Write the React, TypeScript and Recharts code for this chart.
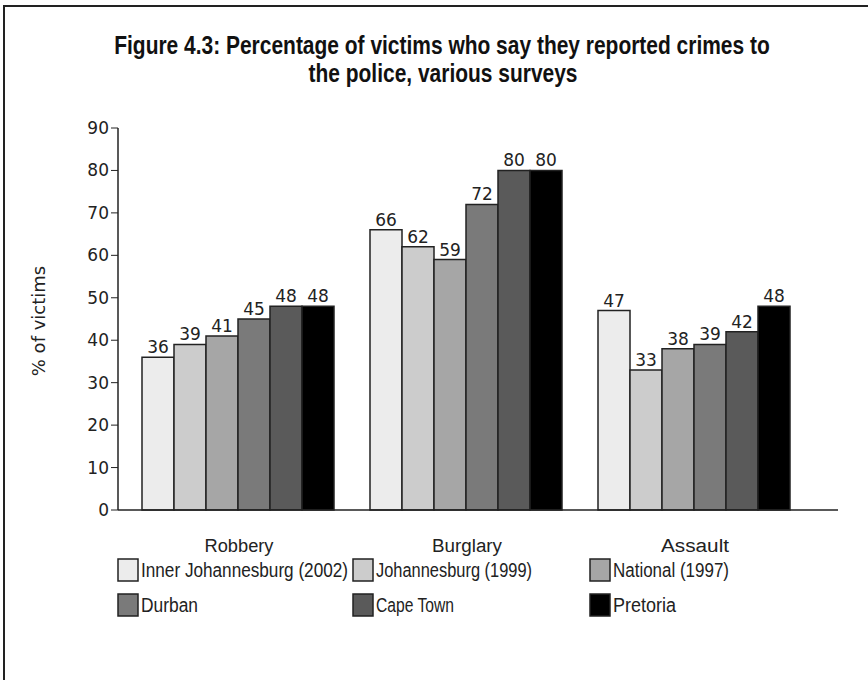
import { BarChart, Bar, XAxis, YAxis, LabelList } from "recharts";

const categories = ["Robbery", "Burglary", "Assault"];
const innerJhb2002 = [36, 66, 47];
const jhb1999 = [39, 62, 33];
const national1997 = [41, 59, 38];
const durban = [45, 72, 39];
const capeTown = [48, 80, 42];
const pretoria = [48, 80, 48];
const yTicks = [0, 10, 20, 30, 40, 50, 60, 70, 80, 90];

const series = [
  { key: "inner", name: "Inner Johannesburg (2002)", values: innerJhb2002, color: "#ececec" },
  { key: "jhb", name: "Johannesburg (1999)", values: jhb1999, color: "#cccccc" },
  { key: "national", name: "National (1997)", values: national1997, color: "#a6a6a6" },
  { key: "durban", name: "Durban", values: durban, color: "#7a7a7a" },
  { key: "cape", name: "Cape Town", values: capeTown, color: "#5a5a5a" },
  { key: "pretoria", name: "Pretoria", values: pretoria, color: "#000000" },
];

const data = categories.map((c, i) => {
  const row: Record<string, string | number> = { category: c };
  series.forEach((s) => (row[s.key] = s.values[i]));
  return row;
});

// no condensed face installed, so narrow text is squeezed horizontally
const narrow = "'Liberation Sans', sans-serif";
const wide = "'DejaVu Sans', sans-serif";

const catWidth: Record<string, number> = { Robbery: 69, Burglary: 70, Assault: 68 };
const legendWidth = [207, 156, 116, 57, 78, 63];
const legendX = [118, 353, 590];
const legendY = [570, 605];

function CategoryTick(props: any) {
  const { x, y, payload } = props;
  const label = String(payload.value);
  return (
    <text
      x={x}
      y={y + 34}
      textAnchor="middle"
      fontFamily={narrow}
      fontSize={18}
      fill="#222"
      textLength={catWidth[label]}
      lengthAdjust="spacingAndGlyphs"
    >
      {label}
    </text>
  );
}

export default function App() {
  return (
    <div style={{ position: "relative", width: 868, height: 680, background: "#fff", overflow: "hidden" }}>
      <style>{"body{margin:0}"}</style>
      <BarChart
        width={868}
        height={680}
        data={data}
        margin={{ top: 128, right: 30, bottom: 140, left: 58 }}
        barCategoryGap={17}
        barGap={0}
      >
        <XAxis
          dataKey="category"
          height={30}
          padding={{ left: 7, right: 29 }}
          tickLine={false}
          axisLine={{ stroke: "#222", strokeWidth: 1.5 }}
          tick={<CategoryTick />}
        />
        <YAxis
          width={60}
          domain={[0, 90]}
          ticks={yTicks}
          interval={0}
          axisLine={{ stroke: "#222", strokeWidth: 1.5 }}
          tickLine={{ stroke: "#222" }}
          tickSize={7}
          tick={{ fontFamily: wide, fontSize: 17, fill: "#222" }}
        />
        {series.map((s) => (
          <Bar
            key={s.key}
            dataKey={s.key}
            name={s.name}
            fill={s.color}
            stroke="#222"
            strokeWidth={1.5}
            isAnimationActive={false}
          >
            <LabelList dataKey={s.key} position="top" offset={4} style={{ fontFamily: wide, fontSize: 17, fill: "#222" }} />
          </Bar>
        ))}
      </BarChart>
      <svg width={868} height={680} style={{ position: "absolute", left: 0, top: 0, pointerEvents: "none" }}>
        <path d="M4 700 V6 H900" fill="none" stroke="#222" strokeWidth={2} />
        <g transform="translate(442 54) scale(0.806 1)">
          <text x={0} y={0} textAnchor="middle" fontFamily={narrow} fontWeight="bold" fontSize={26} fill="#111">
            Figure 4.3: Percentage of victims who say they reported crimes to
          </text>
        </g>
        <g transform="translate(443 82) scale(0.806 1)">
          <text x={0} y={0} textAnchor="middle" fontFamily={narrow} fontWeight="bold" fontSize={26} fill="#111">
            the police, various surveys
          </text>
        </g>
        <text
          x={0}
          y={0}
          transform="translate(45 321) rotate(-90)"
          textAnchor="middle"
          fontFamily={wide}
          fontSize={18}
          fill="#222"
        >
          % of victims
        </text>
        {series.map((s, i) => {
          const x = legendX[i % 3];
          const y = legendY[i < 3 ? 0 : 1];
          return (
            <g key={s.key}>
              <rect x={x} y={y - 11} width={20} height={22} fill={s.color} stroke="#222" strokeWidth={1.5} />
              <text
                x={x + 23}
                y={y + 7}
                fontFamily={narrow}
                fontSize={20}
                fill="#222"
                textLength={legendWidth[i]}
                lengthAdjust="spacingAndGlyphs"
              >
                {s.name}
              </text>
            </g>
          );
        })}
      </svg>
    </div>
  );
}
